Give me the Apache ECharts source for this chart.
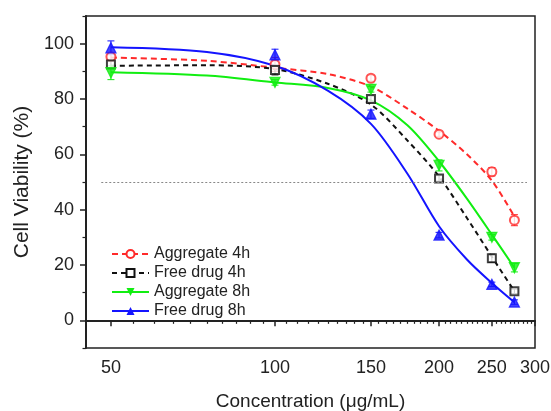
<!DOCTYPE html>
<html>
<head>
<meta charset="utf-8">
<script src="https://cdn.jsdelivr.net/npm/echarts@6/dist/echarts.min.js"></script>
<style>
html, body { margin: 0; padding: 0; background: #fff; }
#chart { width: 551px; height: 411px; }
</style>
</head>
<body>
<div id="chart"></div>
<script>
// measured points (µg/mL) and viability (%)
var doses = [50, 100, 150, 200, 250, 275];
var agg4h = [95.3, 92.5, 87.5, 67.3, 53.7, 36.2];
var agg4hErr = [1, 2.5, 1, 0.8, 1.5, 2];
var free4h = [92.5, 90.5, 80, 51.3, 22.4, 10.5];
var free4hErr = [1.5, 1.8, 1, 1, 1.5, 0.8];
var agg8h = [89.5, 86, 83.5, 56, 30, 19];
var agg8hErr = [2.5, 1, 1, 2, 1, 1.5];
var free8h = [98.5, 96, 74.5, 30.8, 13, 6.6];
var free8hErr = [2.5, 2, 1.5, 1, 0.8, 0.8];

// fitted curves
var fitDoses = [50, 75, 100, 125, 150, 175, 200, 225, 250, 275];
var agg4hFit = [95, 93.8, 91.3, 89, 84.5, 76.5, 68.5, 60, 50.5, 37.5];
var free4hFit = [92, 92.2, 90.8, 85.5, 78, 65, 52, 37, 23, 10.5];
var agg8hFit = [89.7, 88.5, 86, 84, 79.5, 70.5, 57.5, 44, 31, 19];
var free8hFit = [98.7, 97, 92, 83, 71, 53, 34, 22, 13.5, 6.5];

var xTicks = [50, 100, 150, 200, 250, 300];
var xMinor = [55, 60, 65, 70, 75, 80, 85, 90, 95, 105, 110, 115, 120, 125, 130, 135, 140, 145,
    155, 160, 165, 170, 175, 180, 185, 190, 195, 205, 210, 215, 220, 225, 230, 235, 240, 245,
    255, 260, 265, 270, 275, 280, 285, 290, 295];
var xRange = [45, 300];
var yTicks = [0, 20, 40, 60, 80, 100];
var yMinor = [-10, 10, 30, 50, 70, 90, 110];
var yRange = [-10, 110];
var refLine = [48, 290, 50];

var font = "'Liberation Sans', Arial, sans-serif";
var lg = Math.log10;

function pts(xs, ys) {
    return xs.map(function (x, i) { return [lg(x), ys[i]]; });
}

function fitLine(name, color, type, symbol, rotate, values) {
    return {
        name: name,
        type: "line",
        smooth: 0.3,
        showSymbol: false,
        symbol: symbol,
        symbolRotate: rotate,
        symbolSize: 8,
        lineStyle: { color: color, width: 2, type: type },
        itemStyle: { color: color },
        data: pts(fitDoses, values),
        z: 2
    };
}

function marks(name, color, symbol, rotate, size, values) {
    return {
        name: name + " pts",
        type: "scatter",
        symbol: symbol,
        symbolRotate: rotate,
        symbolSize: size,
        itemStyle: { color: color, borderColor: color, borderWidth: 1.3 },
        data: pts(doses, values),
        z: 4
    };
}

function errBars(name, color, values, errs) {
    return {
        name: name + " err",
        type: "custom",
        encode: { x: 0, y: [1, 2] },
        data: doses.map(function (d, i) {
            return [lg(d), values[i] - errs[i], values[i] + errs[i]];
        }),
        renderItem: function (params, api) {
            var lo = api.coord([api.value(0), api.value(1)]);
            var hi = api.coord([api.value(0), api.value(2)]);
            var w = 3.5;
            var st = { stroke: color, lineWidth: 1 };
            return {
                type: "group",
                children: [
                    { type: "line", shape: { x1: lo[0], y1: lo[1], x2: hi[0], y2: hi[1] }, style: st },
                    { type: "line", shape: { x1: lo[0] - w, y1: lo[1], x2: lo[0] + w, y2: lo[1] }, style: st },
                    { type: "line", shape: { x1: hi[0] - w, y1: hi[1], x2: hi[0] + w, y2: hi[1] }, style: st }
                ]
            };
        },
        z: 3
    };
}

var red = "#ff2a2a", black = "#111111", green = "#11ee11", blue = "#1414ff";

var chart = echarts.init(document.getElementById("chart"));
var first = fitLine("Aggregate 4h", red, [6, 4], "emptyCircle", 0, agg4hFit);
first.markLine = {
    silent: true,
    symbol: "none",
    label: { show: false },
    lineStyle: { color: "#888", type: [2, 2], width: 1 },
    data: [[{ coord: [lg(refLine[0]), refLine[2]] }, { coord: [lg(refLine[1]), refLine[2]] }]]
};

chart.setOption({
    animation: false,
    textStyle: { fontFamily: font },
    grid: {
        left: 86, right: 16, top: 16, bottom: 63,
        containLabel: false, outerBoundsMode: "none",
        show: true, borderColor: "#222", borderWidth: 1.5
    },
    legend: {
        data: ["Aggregate 4h", "Free drug 4h", "Aggregate 8h", "Free drug 8h"],
        orient: "vertical",
        left: 106,
        top: 241,
        itemWidth: 37,
        itemHeight: 10,
        itemGap: 3,
        textStyle: { fontSize: 16, color: "#222", fontFamily: font }
    },
    xAxis: [{
        type: "value",
        min: lg(xRange[0]),
        max: lg(xRange[1]),
        name: "Concentration (\u03bcg/mL)",
        nameLocation: "middle",
        nameGap: 44,
        nameTextStyle: { fontSize: 19, color: "#222" },
        axisLine: { show: true, lineStyle: { color: "#222", width: 2 } },
        axisTick: { show: true, customValues: xTicks.map(lg), length: 6, lineStyle: { color: "#222", width: 1.5 } },
        axisLabel: {
            customValues: xTicks.map(lg),
            margin: 11,
            fontSize: 18,
            color: "#222",
            formatter: function (v) { return Math.round(Math.pow(10, v)); }
        },
        splitLine: { show: false }
    }, {
        type: "value",
        position: "bottom",
        min: lg(xRange[0]),
        max: lg(xRange[1]),
        axisLine: { show: false },
        axisTick: { show: true, customValues: xMinor.map(lg), length: 3.5, lineStyle: { color: "#222", width: 1.2 } },
        axisLabel: { show: false },
        splitLine: { show: false }
    }],
    yAxis: [{
        type: "value",
        min: yRange[0],
        max: yRange[1],
        name: "Cell Viability (%)",
        nameLocation: "middle",
        nameGap: 52,
        nameTextStyle: { fontSize: 21, color: "#222" },
        axisLine: { show: true, lineStyle: { color: "#222", width: 2 } },
        axisTick: { show: true, customValues: yTicks, length: 6, lineStyle: { color: "#222", width: 1.5 } },
        axisLabel: { customValues: yTicks, margin: 12, fontSize: 18, color: "#222" },
        splitLine: { show: false }
    }, {
        type: "value",
        position: "left",
        min: yRange[0],
        max: yRange[1],
        axisLine: { show: false },
        axisTick: { show: true, customValues: yMinor, length: 3.5, lineStyle: { color: "#222", width: 1.2 } },
        axisLabel: { show: false },
        splitLine: { show: false }
    }],
    series: [
        first,
        fitLine("Free drug 4h", black, [5, 4], "emptyRect", 0, free4hFit),
        fitLine("Aggregate 8h", green, "solid", "triangle", 180, agg8hFit),
        fitLine("Free drug 8h", blue, "solid", "triangle", 0, free8hFit),
        errBars("Aggregate 4h", red, agg4h, agg4hErr),
        errBars("Free drug 4h", black, free4h, free4hErr),
        errBars("Aggregate 8h", green, agg8h, agg8hErr),
        errBars("Free drug 8h", blue, free8h, free8hErr),
        marks("Aggregate 4h", red, "emptyCircle", 0, 9, agg4h),
        marks("Free drug 4h", black, "emptyRect", 0, 8, free4h),
        marks("Aggregate 8h", green, "triangle", 180, 10, agg8h),
        marks("Free drug 8h", blue, "triangle", 0, 10, free8h)
    ]
});
</script>
</body>
</html>
